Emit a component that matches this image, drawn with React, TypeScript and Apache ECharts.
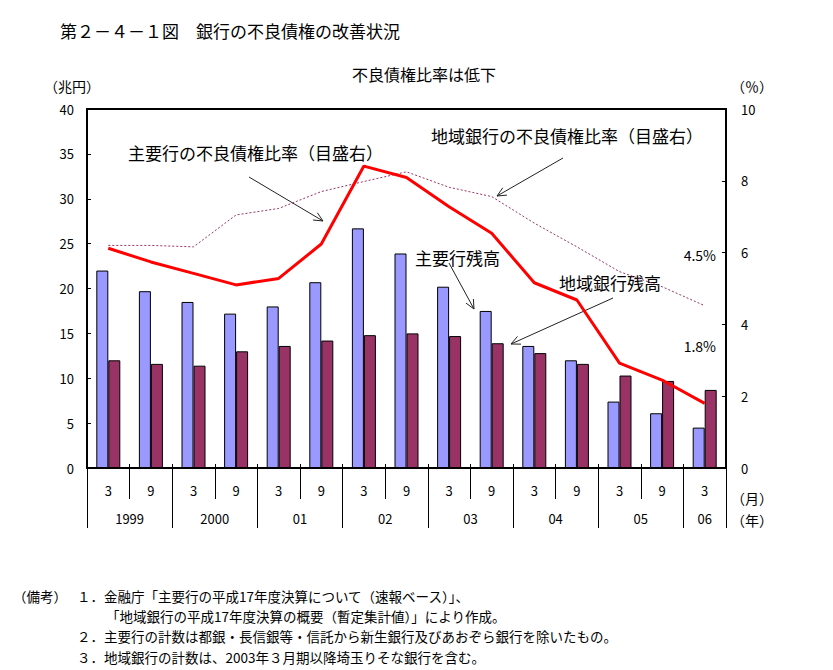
import React, { useEffect, useRef } from 'react';
import * as echarts from 'echarts';

// ---- data ----
const months = ['3', '9', '3', '9', '3', '9', '3', '9', '3', '9', '3', '9', '3', '9', '3'];
const years = ['1999', '2000', '01', '02', '03', '04', '05', '06'];
const yearSpans = [2, 2, 2, 2, 2, 2, 2, 1];
// 主要行残高（兆円）
const majorBalance = [22.0, 19.7, 18.5, 17.2, 18.0, 20.7, 26.7, 23.9, 20.2, 17.5, 13.6, 12.0, 7.4, 6.1, 4.5];
// 地域銀行残高（兆円）
const regionalBalance = [12.0, 11.6, 11.4, 13.0, 13.6, 14.2, 14.8, 15.0, 14.7, 13.9, 12.8, 11.6, 10.3, 9.7, 8.7];
// 主要行の不良債権比率（％）
const majorRatio = [6.12, 5.74, 5.42, 5.1, 5.28, 6.24, 8.41, 8.09, 7.28, 6.54, 5.16, 4.68, 2.92, 2.45, 1.8];
// 地域銀行の不良債権比率（％）
const regionalRatio = [6.2, 6.2, 6.16, 7.05, 7.23, 7.7, 7.98, 8.25, 7.82, 7.56, 6.82, 6.16, 5.47, 5.05, 4.52];

const FONT = "'Noto Sans CJK JP', 'Noto Sans', sans-serif";

function txt(text: string, x: number, y: number, size: number, align = 'left') {
  return {
    type: 'text',
    x,
    y,
    silent: true,
    style: { text, fontSize: size, fontFamily: FONT, fill: '#000', align, verticalAlign: 'middle' },
  };
}

function arrow(x1: number, y1: number, x2: number, y2: number) {
  const ang = Math.atan2(y2 - y1, x2 - x1);
  const L = 10;
  const a = (25 * Math.PI) / 180;
  const p1 = [x2 - L * Math.cos(ang - a), y2 - L * Math.sin(ang - a)];
  const p2 = [x2 - L * Math.cos(ang + a), y2 - L * Math.sin(ang + a)];
  return [
    { type: 'line', silent: true, shape: { x1, y1, x2, y2 }, style: { stroke: '#222', lineWidth: 1 } },
    { type: 'polyline', silent: true, shape: { points: [p1, [x2, y2], p2] }, style: { stroke: '#222', lineWidth: 1, fill: null } },
  ];
}

export default function App() {
  const ref = useRef<HTMLDivElement>(null);
  useEffect(() => {
    if (!ref.current) return;
    const chart = echarts.init(ref.current, undefined, { renderer: 'svg' });

    // year axis built on half-period slots
    const slots = months.length * 2 + 1;
    const yearData: string[] = new Array(slots).fill('');
    const boundaries = new Set<number>();
    let s = 0;
    years.forEach((y, i) => {
      boundaries.add(s * 2);
      yearData[s * 2 + yearSpans[i]] = y;
      s += yearSpans[i];
    });
    boundaries.add(s * 2);

    const option: any = {
      animation: false,
      backgroundColor: '#fff',
      textStyle: { fontFamily: FONT },
      title: [
        { text: '第２－４－１図　銀行の不良債権の改善状況', left: 55, top: 17, textStyle: { fontSize: 17, fontWeight: 'normal', color: '#000', fontFamily: FONT } },
        { text: '不良債権比率は低下', left: 347, top: 61, textStyle: { fontSize: 16, fontWeight: 'normal', color: '#000', fontFamily: FONT } },
      ],
      grid: { left: 87, right: 107, top: 109, bottom: 202, show: true, borderColor: '#000', borderWidth: 2, backgroundColor: 'transparent' },
      xAxis: [
        {
          type: 'category',
          data: months,
          position: 'bottom',
          axisLine: { show: true, lineStyle: { color: '#000', width: 2 } },
          axisTick: { show: true, interval: 0, length: 31, lineStyle: { color: '#000', width: 1 } },
          axisLabel: { interval: 0, margin: 16, fontSize: 13, color: '#000', fontFamily: FONT },
        },
        {
          type: 'category',
          data: yearData,
          boundaryGap: false,
          position: 'bottom',
          axisLine: { show: false },
          axisTick: { show: true, length: 60, interval: (i: number) => boundaries.has(i), lineStyle: { color: '#000', width: 1 } },
          axisLabel: { interval: 0, margin: 44, fontSize: 13, color: '#000', fontFamily: FONT },
        },
        {
          type: 'category',
          data: months,
          position: 'bottom',
          axisLine: { show: false },
          axisTick: { show: true, inside: true, interval: 0, length: 4, lineStyle: { color: '#000', width: 1 } },
          axisLabel: { show: false },
        },
      ],
      yAxis: [
        {
          type: 'value',
          min: 0,
          max: 40,
          interval: 5,
          axisLine: { show: true, lineStyle: { color: '#000', width: 2 } },
          axisTick: { show: true, inside: true, length: 4, lineStyle: { color: '#000' } },
          axisLabel: { margin: 13, fontSize: 13, color: '#000', fontFamily: FONT },
          splitLine: { show: false },
        },
        {
          type: 'value',
          min: 0,
          max: 10,
          interval: 2,
          position: 'right',
          axisLine: { show: true, lineStyle: { color: '#000', width: 2 } },
          axisTick: { show: true, inside: true, length: 4, lineStyle: { color: '#000' } },
          axisLabel: { margin: 15, fontSize: 13, color: '#000', fontFamily: FONT },
          splitLine: { show: false },
        },
      ],
      series: [
        {
          name: '主要行残高',
          type: 'bar',
          data: majorBalance,
          barWidth: 12,
          barGap: '0%',
          itemStyle: { color: '#9999FF', borderColor: '#000', borderWidth: 1 },
        },
        {
          name: '地域銀行残高',
          type: 'bar',
          data: regionalBalance,
          barWidth: 12,
          barGap: '0%',
          itemStyle: { color: '#993366', borderColor: '#000', borderWidth: 1 },
        },
        {
          name: '地域銀行の不良債権比率',
          type: 'line',
          yAxisIndex: 1,
          data: regionalRatio,
          symbol: 'none',
          lineStyle: { color: '#993366', width: 1, type: [2, 2] },
          z: 3,
        },
        {
          name: '主要行の不良債権比率',
          type: 'line',
          yAxisIndex: 1,
          data: majorRatio,
          symbol: 'none',
          lineStyle: { color: '#FF0000', width: 3 },
          z: 4,
        },
      ],
      graphic: [
        txt('（兆円）', 44, 86, 14),
        txt('（％）', 731, 86, 14),
        txt('（月）', 731, 498, 14),
        txt('（年）', 731, 520, 14),
        txt('主要行の不良債権比率（目盛右）', 128, 152, 17),
        txt('地域銀行の不良債権比率（目盛右）', 431, 135, 17),
        txt('主要行残高', 415, 257, 17),
        txt('地域銀行残高', 559, 282, 17),
        txt('4.5%', 716, 255, 14, 'right'),
        txt('1.8%', 716, 346, 14, 'right'),
        ...arrow(249, 177, 323, 221),
        ...arrow(563, 158, 497, 196),
        ...arrow(449, 263, 474, 309),
        ...arrow(613, 298, 511, 344),
        txt('（備考）', 13, 596, 13.5),
        txt('１．金融庁「主要行の平成17年度決算について（速報ベース）」、', 77, 596, 13.5),
        txt('「地域銀行の平成17年度決算の概要（暫定集計値）」により作成。', 106, 616, 13.5),
        txt('２．主要行の計数は都銀・長信銀等・信託から新生銀行及びあおぞら銀行を除いたもの。', 77, 636, 13.5),
        txt('３．地域銀行の計数は、2003年３月期以降埼玉りそな銀行を含む。', 77, 657, 13.5),
      ],
    };
    chart.setOption(option);
    return () => chart.dispose();
  }, []);
  return <div ref={ref} style={{ position: 'absolute', left: 0, top: 0, width: 833, height: 670 }} />;
}
